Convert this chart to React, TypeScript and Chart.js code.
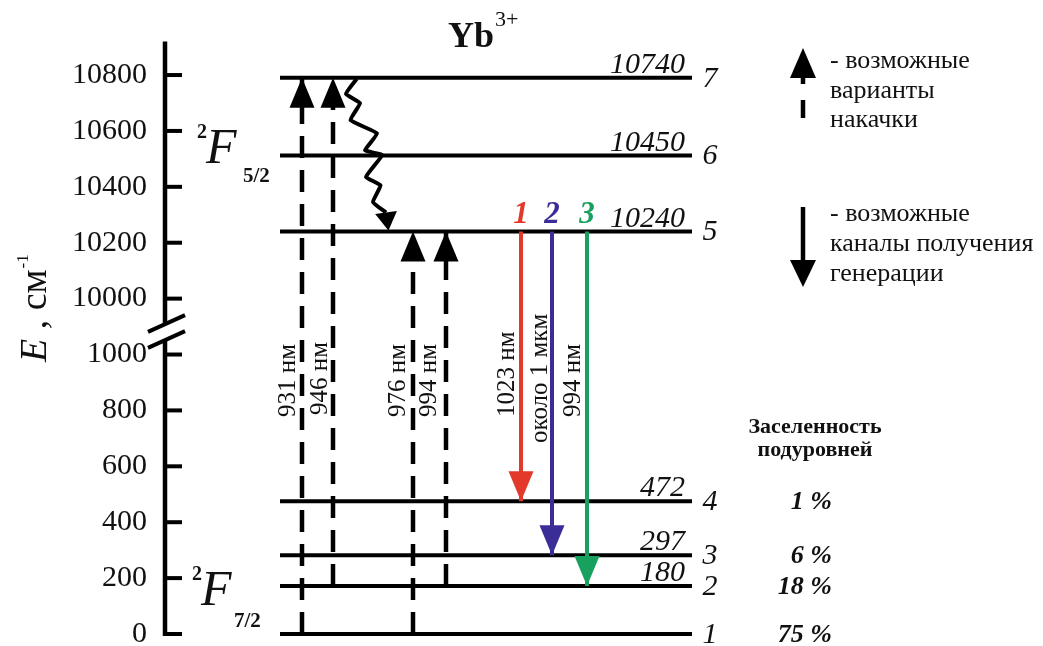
import React, { useEffect, useRef } from "react";
import { Chart, registerables } from "chart.js";

Chart.register(...registerables);

// ================= DATA =================
const levelNumbers = [1, 2, 3, 4, 5, 6, 7];
// energies written next to each level, cm^-1
const levelEnergies = [0, 180, 297, 472, 10240, 10450, 10740];
// energy at which each level line is actually drawn on the axis
const levelDrawnE = [0, 172, 282, 475, 10240, 10512, 10790];
// population of sublevels 1..4, %
const populations = [75, 18, 6, 1];
const yTickValues = [0, 200, 400, 600, 800, 1000, 10000, 10200, 10400, 10600, 10800];

const pumpWavelengths = [931, 946, 976, 994];
const pumpFrom = [1, 2, 1, 2];
const pumpTo = [7, 7, 5, 5];

const laserIds = ["1", "2", "3"];
const laserLabels = ["1023 нм", "около 1 мкм", "994 нм"];
const laserFrom = [5, 5, 5];
const laserTo = [4, 3, 2];
const laserColors = ["#e2392b", "#3b2d98", "#18a05e"];

// non-radiative relaxation 7 -> 5: fraction of the way down
const relaxT = [0.007, 0.105, 0.165, 0.275, 0.362, 0.471, 0.503, 0.645, 0.699, 0.808, 0.876];

// ================= LAYOUT =================
const FONT = '"Liberation Serif", "Times New Roman", serif';
const LEVEL_X = [280, 692];
const PUMP_X = [302, 333, 413, 446];
const PUMP_LABEL_X = [288, 320, 398, 429];
const PUMP_LABEL_BOTTOM = [417, 415, 417, 417];
const LASER_X = [521, 552, 587];
const LASER_LABEL_X = [507, 540, 573];
const LASER_LABEL_BOTTOM = [417, 443, 417];
const RELAX_X = [356.7, 346, 360, 350.5, 377, 365, 382, 366, 380.5, 373, 386];
const RELAX_TIP_X = 388.5;

// broken axis: 1000 ... 10000 compressed to a gap of 200
const BREAK_LOW = 1000;
const BREAK_HIGH = 10000;
const BREAK_GAP = 200;
const mapE = (e: number) => (e >= BREAK_HIGH ? e - BREAK_HIGH + BREAK_LOW + BREAK_GAP : e);

function font(size: number, style = "normal", weight = "normal") {
  return `${style} ${weight} ${size}px ${FONT}`;
}

function text(
  ctx: CanvasRenderingContext2D,
  s: string,
  x: number,
  y: number,
  f: string,
  align: CanvasTextAlign = "left",
  baseline: CanvasTextBaseline = "alphabetic",
  color = "#111"
) {
  ctx.font = f;
  ctx.textAlign = align;
  ctx.textBaseline = baseline;
  ctx.fillStyle = color;
  ctx.fillText(s, x, y);
  return ctx.measureText(s).width;
}

function rotText(ctx: CanvasRenderingContext2D, s: string, cx: number, bottom: number, f: string) {
  ctx.save();
  ctx.translate(cx, bottom);
  ctx.rotate(-Math.PI / 2);
  text(ctx, s, 0, 0, f, "left", "middle");
  ctx.restore();
}

function head(
  ctx: CanvasRenderingContext2D,
  tipX: number,
  tipY: number,
  baseX: number,
  baseY: number,
  w: number,
  color: string
) {
  const dx = tipX - baseX;
  const dy = tipY - baseY;
  const L = Math.hypot(dx, dy) || 1;
  const nx = -dy / L;
  const ny = dx / L;
  ctx.beginPath();
  ctx.moveTo(tipX, tipY);
  ctx.lineTo(baseX + (nx * w) / 2, baseY + (ny * w) / 2);
  ctx.lineTo(baseX - (nx * w) / 2, baseY - (ny * w) / 2);
  ctx.closePath();
  ctx.fillStyle = color;
  ctx.fill();
}

const diagramPlugin = {
  id: "diagram",
  afterDatasetsDraw(chart: any) {
    const ctx: CanvasRenderingContext2D = chart.ctx;
    const ys = chart.scales.y;
    const xs = chart.scales.x;
    const px = (v: number) => xs.getPixelForValue(v);
    const lvlY = (n: number) => ys.getPixelForValue(mapE(levelDrawnE[n - 1]));
    ctx.save();

    // ---- axis line with break, inward ticks ----
    const ax = chart.chartArea.left;
    const top = chart.chartArea.top;
    const bottom = ys.getPixelForValue(0) + 2;
    const bc = ys.getPixelForValue(1080);
    ctx.strokeStyle = "#000";
    ctx.lineCap = "butt";
    ctx.lineWidth = 4.5;
    ctx.beginPath();
    ctx.moveTo(ax, top);
    ctx.lineTo(ax, bc - 8);
    ctx.moveTo(ax, bc + 8);
    ctx.lineTo(ax, bottom);
    ctx.stroke();
    ctx.lineWidth = 4;
    for (const off of [-8, 8]) {
      ctx.beginPath();
      ctx.moveTo(ax - 17, bc + off + 17 * 0.45);
      ctx.lineTo(ax + 20, bc + off - 20 * 0.45);
      ctx.stroke();
    }
    for (const v of yTickValues) {
      const y = ys.getPixelForValue(mapE(v));
      ctx.beginPath();
      ctx.moveTo(ax, y);
      ctx.lineTo(ax + 17, y);
      ctx.stroke();
    }

    // ---- pump arrowheads ----
    pumpTo.forEach((to, i) => {
      const x = px(PUMP_X[i]);
      const ty = lvlY(to);
      head(ctx, x, ty, x, ty + 30, 25, "#000");
    });
    // ---- laser arrowheads ----
    laserTo.forEach((to, i) => {
      const x = px(LASER_X[i]);
      const ty = lvlY(to);
      head(ctx, x, ty, x, ty - 30, 25, laserColors[i]);
    });
    // ---- relaxation arrowhead ----
    {
      const y7 = lvlY(7);
      const y5 = lvlY(5);
      const bt = relaxT[relaxT.length - 1];
      const bx = px(RELAX_X[RELAX_X.length - 1]);
      const by = y7 + bt * (y5 - y7);
      head(ctx, px(RELAX_TIP_X), y5 - 1, bx, by, 22, "#000");
    }

    // ---- level labels ----
    levelNumbers.forEach((n, i) => {
      const y = lvlY(n);
      if (levelEnergies[i] > 0) {
        text(ctx, String(levelEnergies[i]), 685, y - 5, font(30, "italic"), "right", "alphabetic");
      }
      text(ctx, String(n), 710, y + 1, font(30, "italic"), "center", "middle");
    });

    // ---- pump labels ----
    pumpWavelengths.forEach((w, i) => {
      rotText(ctx, `${w} нм`, PUMP_LABEL_X[i], PUMP_LABEL_BOTTOM[i], font(25));
    });
    // ---- laser labels and numbers ----
    laserLabels.forEach((s, i) => {
      rotText(ctx, s, LASER_LABEL_X[i], LASER_LABEL_BOTTOM[i], font(25));
      text(ctx, laserIds[i], px(LASER_X[i]), lvlY(laserFrom[i]) - 9, font(31, "italic", "bold"), "center", "alphabetic", laserColors[i]);
    });

    // ---- title ----
    const wYb = text(ctx, "Yb", 448, 47, font(36, "normal", "bold"));
    text(ctx, "3+", 448 + wYb + 1, 26, font(22));

    // ---- term labels ----
    text(ctx, "2", 197, 138, font(20, "normal", "bold"));
    text(ctx, "F", 206, 163, font(50, "italic"));
    text(ctx, "5/2", 243, 182, font(21, "normal", "bold"));
    text(ctx, "2", 192, 580, font(20, "normal", "bold"));
    text(ctx, "F", 201, 605, font(50, "italic"));
    text(ctx, "7/2", 234, 627, font(21, "normal", "bold"));

    // ---- y axis title ----
    ctx.save();
    ctx.translate(46, 362);
    ctx.rotate(-Math.PI / 2);
    const wE = text(ctx, "E", 0, 0, font(38, "italic"));
    const w2 = text(ctx, " , см", wE, 0, font(38));
    text(ctx, "-1", wE + w2 + 1, -18, font(17));
    ctx.restore();

    // ---- legend ----
    ctx.strokeStyle = "#000";
    ctx.lineWidth = 4.5;
    head(ctx, 803, 48, 803, 78, 26, "#000");
    ctx.beginPath();
    ctx.moveTo(803, 77);
    ctx.lineTo(803, 84);
    ctx.moveTo(803, 100);
    ctx.lineTo(803, 118);
    ctx.stroke();
    ["- возможные", "варианты", "накачки"].forEach((s, i) => text(ctx, s, 830, 68 + i * 29.5, font(26)));
    ctx.beginPath();
    ctx.moveTo(803, 207);
    ctx.lineTo(803, 262);
    ctx.stroke();
    head(ctx, 803, 287, 803, 260, 26, "#000");
    ["- возможные", "каналы получения", "генерации"].forEach((s, i) => text(ctx, s, 830, 221 + i * 30, font(26)));

    // ---- population ----
    text(ctx, "Заселенность", 815, 433, font(22, "normal", "bold"), "center");
    text(ctx, "подуровней", 815, 456, font(22, "normal", "bold"), "center");
    populations.forEach((p, i) => {
      text(ctx, `${p} %`, 832, lvlY(i + 1) + 1, font(26, "italic", "bold"), "right", "middle");
    });

    ctx.restore();
  },
};

export default function App() {
  const ref = useRef<HTMLCanvasElement>(null);

  useEffect(() => {
    const canvas = ref.current;
    if (!canvas) return;
    const datasets: any[] = [];
    const base = { pointRadius: 0, fill: false, tension: 0, borderCapStyle: "butt", clip: false };

    laserIds.forEach((_, i) => {
      datasets.push({
        ...base,
        data: [
          { x: LASER_X[i], y: mapE(levelDrawnE[laserFrom[i] - 1]) },
          { x: LASER_X[i], y: mapE(levelDrawnE[laserTo[i] - 1]) },
        ],
        borderColor: laserColors[i],
        borderWidth: 4,
      });
    });

    const e7 = mapE(levelDrawnE[6]);
    const e5 = mapE(levelDrawnE[4]);
    datasets.push({
      ...base,
      data: relaxT.map((t, i) => ({ x: RELAX_X[i], y: e7 + t * (e5 - e7) })),
      borderColor: "#000",
      borderWidth: 4,
      tension: 0.12,
      borderJoinStyle: "round",
    });

    pumpWavelengths.forEach((_, i) => {
      datasets.push({
        ...base,
        data: [
          { x: PUMP_X[i], y: mapE(levelDrawnE[pumpFrom[i] - 1]) },
          { x: PUMP_X[i], y: mapE(levelDrawnE[pumpTo[i] - 1]) },
        ],
        borderColor: "#000",
        borderWidth: 4.5,
        borderDash: [22, 12],
      });
    });

    levelNumbers.forEach((_, i) => {
      datasets.push({
        ...base,
        data: [
          { x: LEVEL_X[0], y: mapE(levelDrawnE[i]) },
          { x: LEVEL_X[1], y: mapE(levelDrawnE[i]) },
        ],
        borderColor: "#000",
        borderWidth: 4,
      });
    });

    const chart = new Chart(canvas, {
      type: "line",
      data: { datasets },
      options: {
        animation: false,
        responsive: false,
        maintainAspectRatio: false,
        events: [],
        layout: { padding: { top: 41.5, bottom: 12, left: 0, right: 0 } },
        plugins: { legend: { display: false }, tooltip: { enabled: false } },
        scales: {
          x: { type: "linear", display: false, min: 165, max: 1043 },
          y: {
            type: "linear",
            min: 0,
            max: 2120,
            grid: { display: false, drawTicks: false },
            border: { display: false },
            afterBuildTicks: (scale: any) => {
              scale.ticks = yTickValues.map((v) => ({ value: mapE(v) }));
            },
            afterFit: (scale: any) => {
              scale.width = 165;
              scale.paddingTop = 0;
              scale.paddingBottom = 0;
            },
            ticks: {
              autoSkip: false,
              padding: 18,
              color: "#111",
              font: { family: FONT, size: 30 },
              callback: (value: any) => {
                const t = yTickValues.find((v) => mapE(v) === value);
                return t === undefined ? "" : String(t);
              },
            },
          },
        },
      },
      plugins: [diagramPlugin],
    } as any);

    return () => chart.destroy();
  }, []);

  return (
    <div style={{ position: "absolute", left: 0, top: 0, width: 1043, height: 646, background: "#fff" }}>
      <canvas ref={ref} width={1043} height={646} style={{ display: "block" }} />
    </div>
  );
}
